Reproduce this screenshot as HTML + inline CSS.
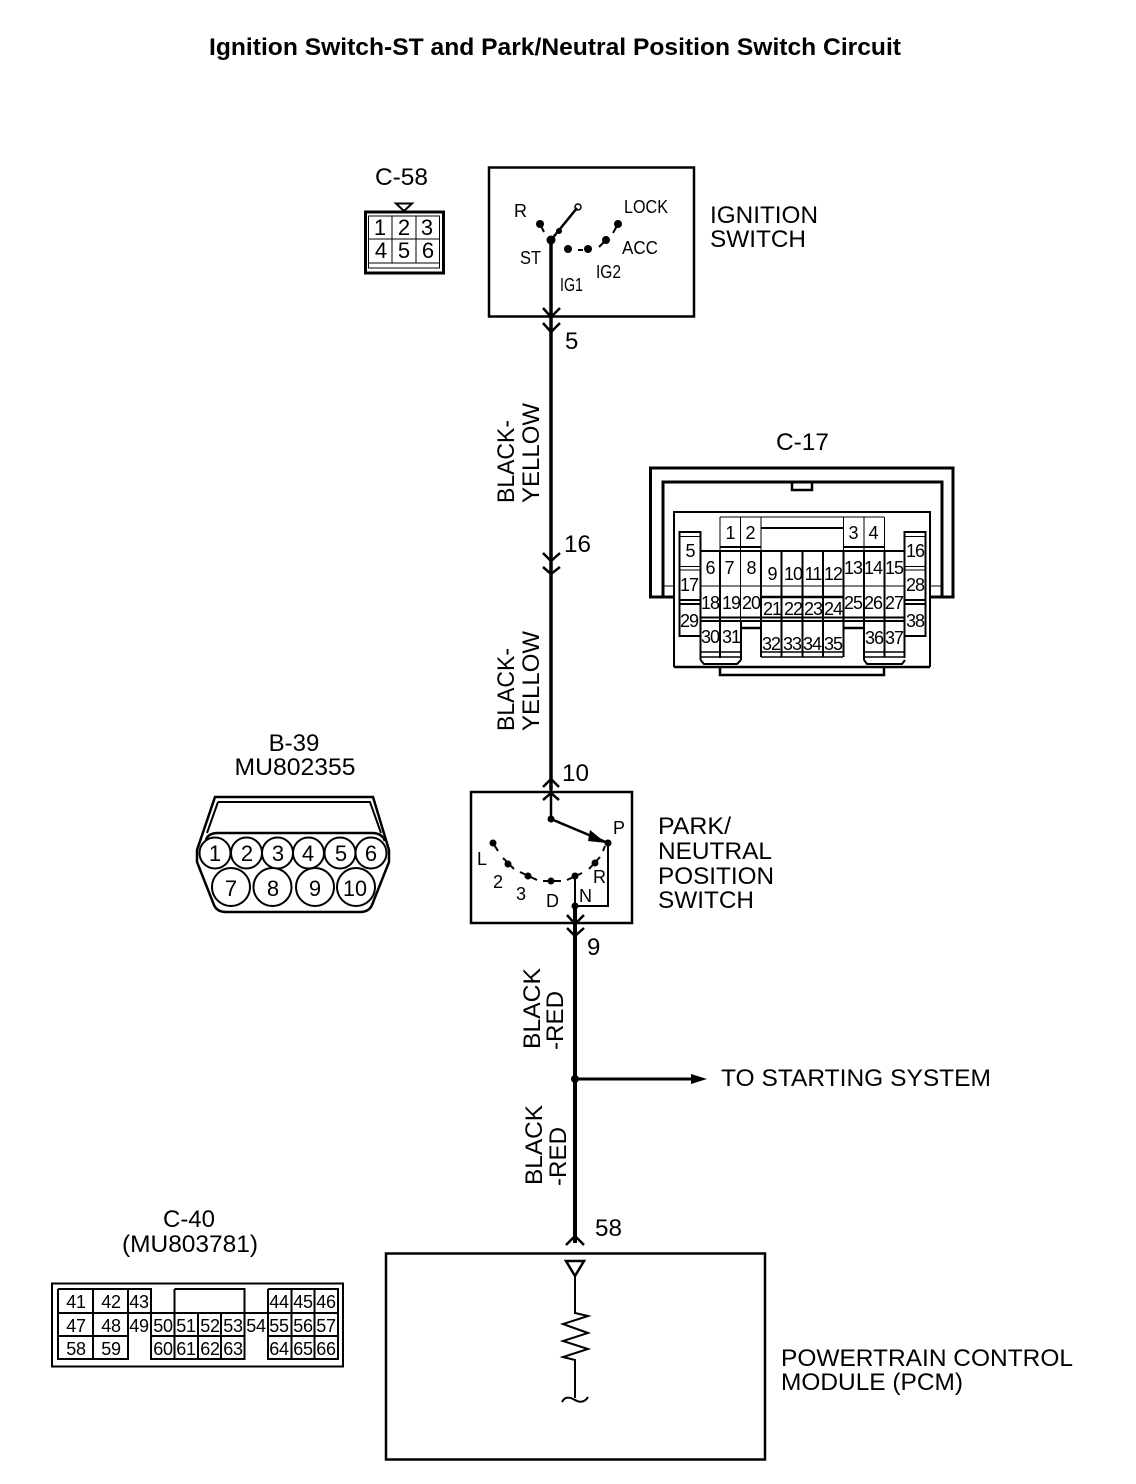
<!DOCTYPE html>
<html><head><meta charset="utf-8"><style>
html,body{margin:0;padding:0;background:#fff}
svg{display:block}
text{font-family:"Liberation Sans",Arial,sans-serif;fill:#000}
.l{font-size:24px}
.s{font-size:18px}
.n{font-size:18px;text-anchor:middle;letter-spacing:-1px}
.m{font-size:22px;text-anchor:middle}
.c{font-size:18px;text-anchor:middle;letter-spacing:-.3px}
.d{fill:#000;stroke:none}
</style></head><body>
<svg width="1136" height="1484" viewBox="0 0 1136 1484" xmlns="http://www.w3.org/2000/svg" fill="none" stroke="#000" stroke-width="2">
<text x="209" y="55" font-size="24" font-weight="bold" stroke="none" textLength="692" lengthAdjust="spacingAndGlyphs">Ignition Switch-ST and Park/Neutral Position Switch Circuit</text>

<!-- C-58 -->
<g stroke="none"><text class="l" x="375" y="185" textLength="53" lengthAdjust="spacingAndGlyphs">C-58</text></g>
<path d="M396 203.500H412L404 211Z" stroke-width="2"/>
<rect x="365.500" y="212" width="78" height="61" stroke-width="3"/>
<rect x="368.500" y="216" width="71" height="52" stroke-width="1"/>
<path d="M368 239H440M368 263H440M392 216V263M416 216V263" stroke-width="1"/>
<g stroke="none"><text class="m" x="380" y="235">1</text><text class="m" x="404" y="235">2</text><text class="m" x="427" y="235">3</text><text class="m" x="381" y="258">4</text><text class="m" x="404" y="258">5</text><text class="m" x="428" y="258">6</text></g>

<!-- Ignition switch -->
<rect x="489" y="167.500" width="205" height="149" stroke-width="2.500"/>
<path d="M551 236V790" stroke-width="3.500"/>
<path d="M543 308L551 317L560 308M543 323L551 332L560 323" stroke-width="2.500"/>
<path d="M551 240L577 208" stroke-width="2.500"/>
<circle cx="578" cy="207" r="3" stroke-width="1.500"/>
<circle class="d" cx="551" cy="240" r="4.500"/><circle class="d" cx="559" cy="231" r="3"/>
<circle class="d" cx="540" cy="224" r="4"/><path d="M540 224L544 232"/>
<circle class="d" cx="568" cy="249" r="4"/><circle class="d" cx="588" cy="249" r="4"/><path d="M578 250H583"/>
<circle class="d" cx="606" cy="240" r="4"/><path d="M606 240L599 247"/>
<circle class="d" cx="618" cy="224" r="4"/><path d="M618 224L613 233"/>
<g stroke="none">
<text class="s" x="514" y="217">R</text>
<text class="s" x="624" y="213" textLength="44" lengthAdjust="spacingAndGlyphs">LOCK</text>
<text class="s" x="622" y="254" textLength="36" lengthAdjust="spacingAndGlyphs">ACC</text>
<text class="s" x="520" y="264" textLength="21" lengthAdjust="spacingAndGlyphs">ST</text>
<text class="s" x="560" y="291" textLength="23" lengthAdjust="spacingAndGlyphs">IG1</text>
<text class="s" x="596" y="278" textLength="25" lengthAdjust="spacingAndGlyphs">IG2</text>
</g>
<g stroke="none">
<text class="l" x="710" y="223" textLength="108" lengthAdjust="spacingAndGlyphs">IGNITION</text>
<text class="l" x="710" y="247" textLength="96" lengthAdjust="spacingAndGlyphs">SWITCH</text>
<text class="l" x="565" y="349">5</text>
<text class="l" x="564" y="552" textLength="27" lengthAdjust="spacingAndGlyphs">16</text>
<text class="l" x="562" y="781" textLength="27" lengthAdjust="spacingAndGlyphs">10</text>
<text class="l" x="587" y="955">9</text>
<text class="l" x="595" y="1236" textLength="27" lengthAdjust="spacingAndGlyphs">58</text>
<text class="l" transform="translate(514 503) rotate(-90)" textLength="83" lengthAdjust="spacingAndGlyphs">BLACK-</text>
<text class="l" transform="translate(539 503) rotate(-90)" textLength="100" lengthAdjust="spacingAndGlyphs">YELLOW</text>
<text class="l" transform="translate(514 731) rotate(-90)" textLength="83" lengthAdjust="spacingAndGlyphs">BLACK-</text>
<text class="l" transform="translate(539 731) rotate(-90)" textLength="100" lengthAdjust="spacingAndGlyphs">YELLOW</text>
<text class="l" transform="translate(540 1049) rotate(-90)" textLength="81" lengthAdjust="spacingAndGlyphs">BLACK</text>
<text class="l" transform="translate(563 1050) rotate(-90)" textLength="59" lengthAdjust="spacingAndGlyphs">-RED</text>
<text class="l" transform="translate(542 1185) rotate(-90)" textLength="80" lengthAdjust="spacingAndGlyphs">BLACK</text>
<text class="l" transform="translate(566 1186) rotate(-90)" textLength="59" lengthAdjust="spacingAndGlyphs">-RED</text>
</g>
<path d="M543 553L551 561L560 553M543 567L551 574L560 567" stroke-width="2.500"/>

<!-- Park/neutral switch -->
<rect x="471" y="792" width="161" height="131" stroke-width="2.500"/>
<path d="M543 787L551 779L559 787M543 800L551 793L559 800" stroke-width="2.500"/>
<path d="M551 790V819L608 843" stroke-width="2.500"/>
<path d="M590 830L606 843L588 841Z" class="d"/>
<circle class="d" cx="551" cy="819" r="3.500"/><circle class="d" cx="608" cy="843" r="3.500"/>
<path d="M608 843V906H575" stroke-width="2"/><path d="M605 846L603 851"/>
<circle class="d" cx="493" cy="843" r="3.500"/><path d="M493 843L498 851"/>
<circle class="d" cx="508" cy="864" r="3.500"/><path d="M503 858L514 869"/>
<circle class="d" cx="528" cy="876" r="3.500"/><path d="M520 872L537 880"/>
<circle class="d" cx="551" cy="881" r="3.500"/><path d="M543 881H561"/>
<circle class="d" cx="575" cy="876" r="3.500"/><path d="M567 880L582 873"/>
<circle class="d" cx="595" cy="863" r="3.500"/><path d="M589 869L600 857"/>
<path d="M575 876V906" stroke-width="2"/>
<circle class="d" cx="575" cy="906" r="3.500"/>
<path d="M575 906V1243" stroke-width="4"/>
<path d="M567 915L575 924L584 915M567 928L575 936L584 928" stroke-width="2.500"/>
<g stroke="none">
<text class="s" x="613" y="834">P</text><text class="s" x="477" y="865">L</text><text class="s" x="493" y="888">2</text><text class="s" x="516" y="900">3</text><text class="s" x="546" y="907">D</text><text class="s" x="593" y="883">R</text><text class="s" x="579" y="902">N</text>
<text class="l" x="658" y="834" textLength="73" lengthAdjust="spacingAndGlyphs">PARK/</text>
<text class="l" x="658" y="859" textLength="114" lengthAdjust="spacingAndGlyphs">NEUTRAL</text>
<text class="l" x="658" y="884" textLength="116" lengthAdjust="spacingAndGlyphs">POSITION</text>
<text class="l" x="658" y="908" textLength="96" lengthAdjust="spacingAndGlyphs">SWITCH</text>
<text class="l" x="721" y="1086" textLength="270" lengthAdjust="spacingAndGlyphs">TO STARTING SYSTEM</text>
<text class="l" x="781" y="1366" textLength="292" lengthAdjust="spacingAndGlyphs">POWERTRAIN CONTROL</text>
<text class="l" x="781" y="1390" textLength="182" lengthAdjust="spacingAndGlyphs">MODULE (PCM)</text>
<text class="l" x="294" y="751" text-anchor="middle">B-39</text>
<text class="l" x="295" y="775" text-anchor="middle" textLength="121" lengthAdjust="spacingAndGlyphs">MU802355</text>
<text class="l" x="189" y="1227" text-anchor="middle">C-40</text>
<text class="l" x="190" y="1252" text-anchor="middle" textLength="136" lengthAdjust="spacingAndGlyphs">(MU803781)</text>
<text class="l" x="776" y="450" textLength="53" lengthAdjust="spacingAndGlyphs">C-17</text>
</g>

<!-- branch -->
<circle class="d" cx="575" cy="1079" r="4"/>
<path d="M575 1079H695" stroke-width="3"/>
<path d="M691 1074L707 1079L691 1084Z" class="d"/>

<!-- PCM -->
<rect x="386" y="1253.500" width="379" height="206" stroke-width="2.500"/>
<path d="M566 1245L575 1236L584 1245" stroke-width="2.500"/>
<path d="M566 1261H584L575 1276Z" stroke-width="2.500"/>
<path d="M575 1276V1313L588 1316L563 1324L588 1333L563 1341L588 1349L563 1357L575 1360V1398" stroke-width="2"/>
<path d="M562 1402C565 1396 570 1397 575 1400C580 1403 585 1402 588 1397" stroke-width="2"/>

<!-- B-39 -->
<path d="M215 797H373L389 850V862L372 905Q369 912 360 912H226Q217 912 214 905L197 862V850Z" stroke-width="2.500"/>
<path d="M218 802H370L381 833M218 802L207 833" stroke-width="2"/>
<path d="M206 840Q208 833 218 833H372Q382 833 385 841" stroke-width="2.500"/>
<g stroke-width="2" fill="#fff">
<circle cx="215" cy="853" r="15.500"/><circle cx="246.500" cy="853" r="15.500"/><circle cx="277.500" cy="853" r="15.500"/><circle cx="308.500" cy="853" r="15.500"/><circle cx="340" cy="853" r="15.500"/><circle cx="371" cy="853" r="15.500"/>
<circle cx="231" cy="887" r="19"/><circle cx="272.500" cy="887" r="19"/><circle cx="315" cy="887" r="19"/><circle cx="356" cy="887" r="19"/>
</g>
<g stroke="none">
<text class="m" x="215" y="861">1</text><text class="m" x="247" y="861">2</text><text class="m" x="278" y="861">3</text><text class="m" x="308" y="861">4</text><text class="m" x="341" y="861">5</text><text class="m" x="371" y="861">6</text>
<text class="m" x="231" y="896">7</text><text class="m" x="273" y="896">8</text><text class="m" x="315" y="896">9</text><text class="m" x="355" y="896" textLength="24" lengthAdjust="spacingAndGlyphs">10</text>
</g>

<!-- C-40 -->
<rect x="52" y="1283.500" width="291" height="83" stroke-width="2"/>
<path d="M58 1289H151V1313M58 1289V1359H128V1289M93 1289V1359M58 1313H338M58 1336H128M151 1313V1359H244.500V1313M174.500 1289V1359M174.500 1289H244.500V1359M198 1313V1359M221 1313V1359M151 1336H244.500M268 1289H338V1359H268V1289M291.500 1289V1359M314.500 1289V1359M268 1336H338" stroke-width="2"/>
<g stroke="none">
<text class="c" x="76" y="1308">41</text><text class="c" x="111" y="1308">42</text><text class="c" x="139" y="1308">43</text><text class="c" x="279" y="1308">44</text><text class="c" x="303" y="1308">45</text><text class="c" x="326" y="1308">46</text>
<text class="c" x="76" y="1332">47</text><text class="c" x="111" y="1332">48</text><text class="c" x="139" y="1332">49</text><text class="c" x="163" y="1332">50</text><text class="c" x="186" y="1332">51</text><text class="c" x="210" y="1332">52</text><text class="c" x="233" y="1332">53</text><text class="c" x="256" y="1332">54</text><text class="c" x="279" y="1332">55</text><text class="c" x="303" y="1332">56</text><text class="c" x="326" y="1332">57</text>
<text class="c" x="76" y="1355">58</text><text class="c" x="111" y="1355">59</text><text class="c" x="163" y="1355">60</text><text class="c" x="186" y="1355">61</text><text class="c" x="210" y="1355">62</text><text class="c" x="233" y="1355">63</text><text class="c" x="279" y="1355">64</text><text class="c" x="303" y="1355">65</text><text class="c" x="326" y="1355">66</text>
</g>

<!-- C-17 -->
<path d="M674 597H650.500V468H953V597H930" stroke-width="3"/>
<path d="M663 597V482H942V597" stroke-width="3"/>
<path d="M792 482V490H812V482" stroke-width="2.500"/>
<path d="M663 586H674M930 586H942" stroke-width="1"/>
<path d="M674 667V512H930V667" stroke-width="2"/>
<path d="M674 667H930M720 667V675H884V667" stroke-width="2.500"/>
<path d="M720 517H884M720 517V551M740.500 517V551M761 517V551M843.500 517V551M864 517V551M884.500 517V551" stroke-width="1"/>
<path d="M761 528H843M720 547H761M843 547H885M701 551H904" stroke-width="2"/>
<rect x="679.500" y="532" width="21" height="104" stroke-width="2" fill="#fff"/>
<rect x="904.500" y="532" width="21" height="104" stroke-width="2" fill="#fff"/>
<path d="M680 536.500H700M680 566.500H700M680 570H700M904 536.500H925M904 566.500H925M904 570H925" stroke-width="1"/>
<path d="M680 600H700M680 604H700M904 600H925M904 604H925" stroke-width="2"/>
<path d="M701 586H904" stroke-width="1"/>
<path d="M761 597H843" stroke-width="2.500"/>
<path d="M701 617.500H904M701 621H904" stroke-width="2"/>
<path d="M700.500 551V660M720 551V658M761 551V657M781.500 551V657M802.500 551V657M823 551V657M843.500 551V657M864 551V660M884.500 551V657M904.500 551V658" stroke-width="2"/>
<path d="M740.500 551V628" stroke-width="1"/>
<path d="M741 628H761M843 628H864" stroke-width="2.500"/>
<path d="M741 621V660" stroke-width="2"/>
<path d="M761 652H843M761 657H843" stroke-width="1.500"/>
<path d="M701 652H741M701 657H741M864 652H905M864 657H905" stroke-width="1.500"/>
<path d="M700.500 660L704 664H737L741 660M864 660L867 664H902L905 660" stroke-width="2"/>
<g stroke="none">
<text class="n" x="730" y="539">1</text><text class="n" x="750" y="539">2</text><text class="n" x="853" y="539">3</text><text class="n" x="873" y="539">4</text>
<text class="n" x="690" y="557">5</text><text class="n" x="710" y="574">6</text><text class="n" x="729" y="574">7</text><text class="n" x="751" y="574">8</text>
<text class="n" x="772" y="580">9</text><text class="n" x="793" y="580">10</text><text class="n" x="813" y="580">11</text><text class="n" x="833" y="580">12</text>
<text class="n" x="853" y="574">13</text><text class="n" x="873" y="574">14</text><text class="n" x="894" y="574">15</text><text class="n" x="915" y="557">16</text>
<text class="n" x="689" y="591">17</text><text class="n" x="710" y="609">18</text><text class="n" x="731" y="609">19</text><text class="n" x="751" y="609">20</text>
<text class="n" x="772" y="615">21</text><text class="n" x="793" y="615">22</text><text class="n" x="813" y="615">23</text><text class="n" x="833" y="615">24</text>
<text class="n" x="853" y="609">25</text><text class="n" x="873" y="609">26</text><text class="n" x="894" y="609">27</text><text class="n" x="915" y="591">28</text>
<text class="n" x="689" y="627">29</text><text class="n" x="710" y="643">30</text><text class="n" x="731" y="643">31</text>
<text class="n" x="771" y="650">32</text><text class="n" x="792" y="650">33</text><text class="n" x="812" y="650">34</text><text class="n" x="833" y="650">35</text>
<text class="n" x="874" y="644">36</text><text class="n" x="894" y="644">37</text><text class="n" x="915" y="627">38</text>
</g>
</svg>
</body></html>
